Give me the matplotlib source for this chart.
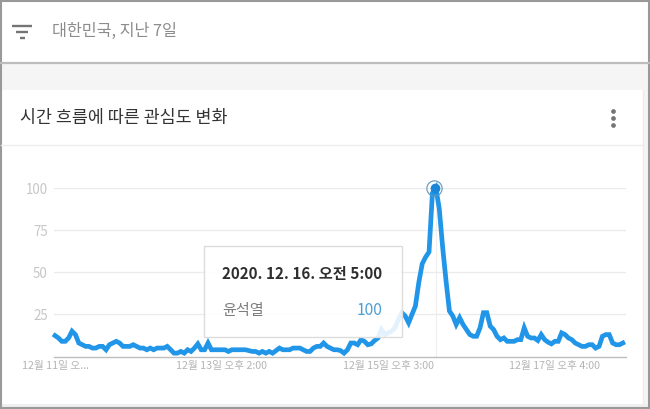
import matplotlib
matplotlib.use("Agg")
import matplotlib.pyplot as plt
from matplotlib.patches import Rectangle
import numpy as np

plt.rcParams['font.family'] = ['Noto Sans CJK KR', 'DejaVu Sans']

hours_values = [
    12.4, 11, 9, 9, 11, 15, 13, 8, 7, 6, 6, 5, 5, 6, 6, 4, 7, 8, 9, 8,
    6, 6, 6, 7, 6, 5, 5, 4, 5, 4, 5, 5, 5, 6, 4, 2, 2, 3, 2, 4,
    3, 5, 7.5, 4, 4, 8, 4, 4, 4, 4, 4, 3, 4, 4, 4, 4, 4, 3.5, 3, 3,
    2, 3, 2, 3, 2, 3.5, 5, 4, 4, 4, 5, 5, 5, 4, 3, 3, 5, 6, 6, 8,
    6, 5, 4, 4, 3.5, 2, 4, 8, 8, 7, 10, 9, 7, 7.5, 9.5, 11, 16, 13, 14, 15,
    17, 22, 26, 24, 20, 25, 30, 44, 55, 59, 62, 97, 100, 88, 65, 45, 27, 24, 19, 23,
    19, 16, 13, 12, 12, 17, 26, 26, 18, 16, 12, 10, 11, 9, 9, 9, 10, 10, 17, 12,
    11, 11, 9.5, 13, 10, 8.5, 7.5, 9, 9, 14, 13, 11, 10, 8, 7, 6, 6, 7, 7, 5,
    6, 12, 13, 13, 8, 7, 7, 8,
]
y_ticks = [25, 50, 75, 100]
x_tick_hours = [0, 49, 98, 147]
x_tick_labels = ['12월 11일 오...', '12월 13일 오후 2:00', '12월 15일 오후 3:00', '12월 17일 오후 4:00']
header_text = '대한민국, 지난 7일'
card_title = '시간 흐름에 따른 관심도 변화'
tooltip_date = '2020. 12. 16. 오전 5:00'
tooltip_name = '윤석열'
tooltip_value = '100'

W, H = 650, 409
LINE = '#2196e8'
fig = plt.figure(figsize=(W / 100, H / 100), dpi=100, facecolor='white')

# page chrome in pixel coordinates
bg = fig.add_axes([0, 0, 1, 1], zorder=0)
bg.set_xlim(0, W); bg.set_ylim(H, 0); bg.axis('off')
bg.add_patch(Rectangle((0, 63), W, 27, fc='#f5f5f5', ec='none'))
bg.add_patch(Rectangle((643, 63), 7, H - 63, fc='#f5f5f5', ec='none'))
bg.add_patch(Rectangle((0, 404), W, 5, fc='#f0f0f0', ec='none'))
bg.plot([0, W], [63, 63], color='#bdbdbd', lw=1.6)
bg.plot([1, 643], [145, 145], color='#eeeeee', lw=1)
bg.plot([643, 643], [90, 404], color='#ececec', lw=1)
for x0, x1, y, in [(12, 32, 26), (16, 28, 32), (20, 25, 38)]:
    bg.plot([x0, x1], [y, y], color='#757575', lw=1.7, solid_capstyle='butt')
bg.text(52, 31, header_text, fontsize=11.7, color='#8c8c8c', va='center', ha='left')
bg.text(20, 118, card_title, fontsize=12.5, color='#333333', va='center', ha='left')
for y in (110.5, 117.5, 124.5):
    bg.plot([613], [y], 'o', ms=3.4, color='#757575', mew=0)
bg.add_patch(Rectangle((0.7, 0.7), W - 1.4, H - 1.4, fc='none', ec='#999999', lw=1.5))

# chart
ax = fig.add_axes([54 / W, 1 - 356.5 / H, (626 - 54) / W, (356.5 - 188) / H], zorder=1)
ax.patch.set_alpha(0)
hours = np.arange(len(hours_values))
ax.set_xlim(-0.3, -0.3 + 572 / 3.4)
ax.set_ylim(0, 100)
for s in ('top', 'left', 'right'):
    ax.spines[s].set_visible(False)
ax.spines['bottom'].set_color('#bdbdbd')
ax.spines['bottom'].set_linewidth(1)
ax.set_yticks(y_ticks)
ax.set_yticklabels([str(t) for t in y_ticks])
ax.set_xticks(x_tick_hours)
ax.set_xticklabels(x_tick_labels)
ax.tick_params(axis='y', length=0, pad=4.5, labelsize=9.6, labelcolor='#c6c6c6')
ax.tick_params(axis='x', length=0, pad=3.2, labelsize=7.7, labelcolor='#b4b4b4')
ax.grid(axis='y', color='#ebebeb', lw=1)
ax.set_axisbelow(True)
peak = int(np.argmax(hours_values))
ax.axvline(peak, ymax=1, color='#eeeeee', lw=0.8)
ax.plot(hours, hours_values, color=LINE, lw=3.4, solid_joinstyle='miter', clip_on=False)
ax.plot([peak - 0.2], [100], 'o', ms=7, color='#1a86d8', mew=0, clip_on=False)
ax.plot([peak - 0.6], [100], 'o', ms=11, mfc='none', mec='#5f95b8', mew=0.8, clip_on=False)

# tooltip
top = fig.add_axes([0, 0, 1, 1], zorder=2)
top.set_xlim(0, W); top.set_ylim(H, 0); top.axis('off')
top.add_patch(Rectangle((204, 245.5), 198, 91.5, fc=(1, 1, 1, 0.88), ec='#dcdcdc', lw=1))
top.text(222, 273.5, tooltip_date, fontsize=10.95, fontweight='bold', color='#2f2f2f', va='center', ha='left')
top.text(222.5, 310.5, tooltip_name, fontsize=10.9, color='#7d7d7d', va='center', ha='left')
top.text(383, 310.5, tooltip_value, fontsize=11.3, color='#4a9fd4', va='center', ha='right')

fig.savefig('out.png', dpi=100)
